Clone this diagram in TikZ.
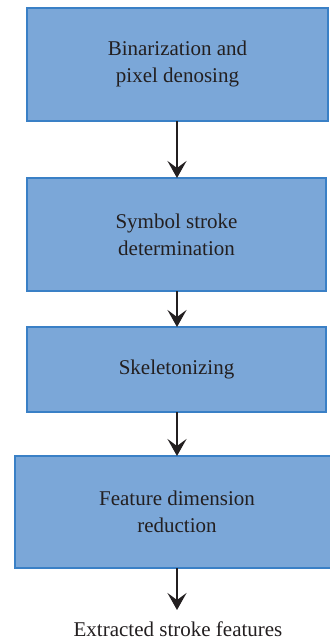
\documentclass[tikz,border=0pt]{standalone}
\usepackage{fontspec}
\setmainfont{Liberation Serif}
\usetikzlibrary{arrows.meta}
\definecolor{boxfill}{RGB}{123,167,216}
\definecolor{boxdraw}{RGB}{58,128,198}
\definecolor{txt}{RGB}{35,31,32}
\begin{document}
\begin{tikzpicture}[x=1pt,y=-1pt,
  procbox/.style={draw=boxdraw,fill=boxfill,line width=1.2pt},
  lbl/.style={text=txt,font=\fontsize{21}{27}\selectfont,align=center},
  flow/.style={line width=2.2pt,draw=txt,-{Stealth[length=17pt,width=19pt,inset=7pt]}}]
\useasboundingbox (0,0) rectangle (329,644);
\draw[procbox] (27,8) rectangle (328,121);
\node[lbl] (b1) at (177.5,64) {Binarization and\\pixel denosing};
\draw[procbox] (27,178) rectangle (326,291);
\node[lbl] (b2) at (176.5,234.5) {Symbol stroke\\determination};
\draw[procbox] (27,327) rectangle (326,412);
\node[lbl] (b3) at (176.5,369) {Skeletonizing};
\draw[procbox] (15,456) rectangle (335,568);
\node[lbl] (b4) at (177,512) {Feature dimension\\reduction};
\node[lbl] (out) at (178,629) {Extracted stroke features};
\coordinate (a1s) at (177,121); \coordinate (a1e) at (177,178);
\coordinate (a2s) at (177,291); \coordinate (a2e) at (177,327);
\coordinate (a3s) at (177,412); \coordinate (a3e) at (177,456);
\coordinate (a4s) at (177,568); \coordinate (a4e) at (177,610);
\draw[flow] (a1s) -- (a1e);
\draw[flow] (a2s) -- (a2e);
\draw[flow] (a3s) -- (a3e);
\draw[flow] (a4s) -- (a4e);
\end{tikzpicture}
\end{document}
